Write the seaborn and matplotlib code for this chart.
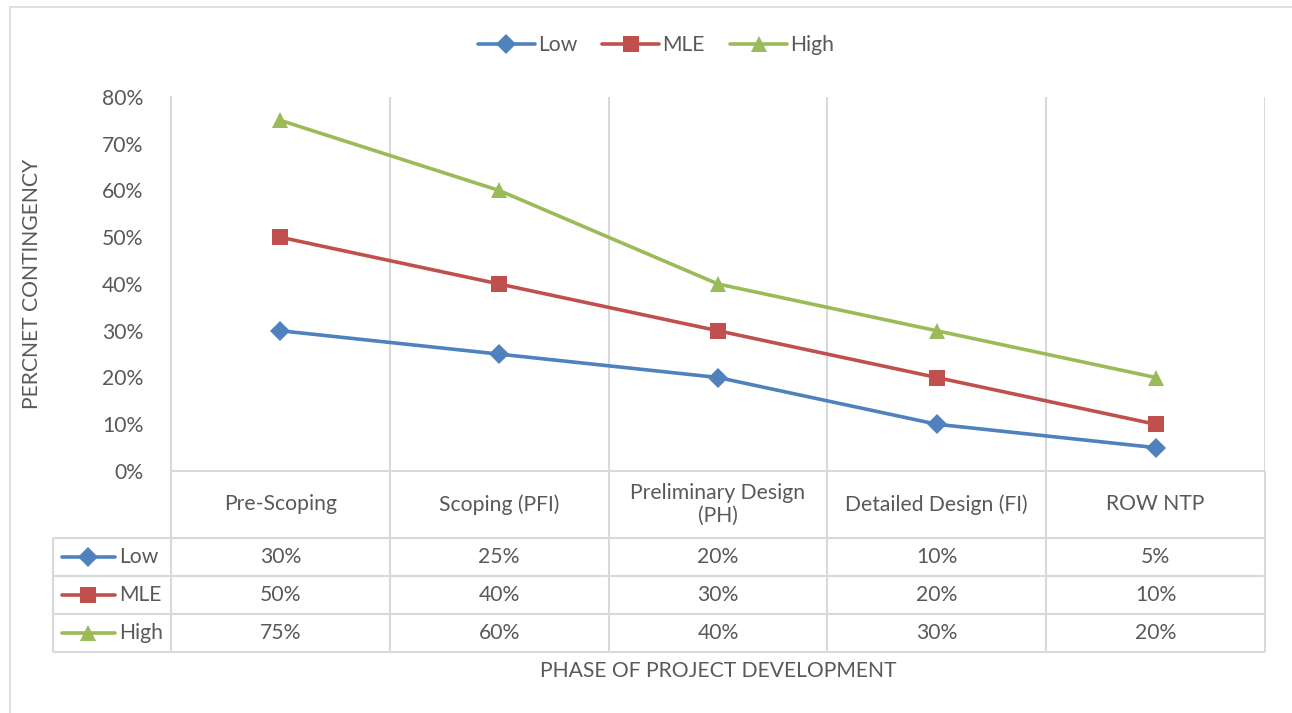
import numpy as np
import pandas as pd
import seaborn as sns
import matplotlib.pyplot as plt
from matplotlib.lines import Line2D
from matplotlib.patches import Rectangle

# values
phases = ["Pre-Scoping", "Scoping (PFI)", "Preliminary Design\n(PH)", "Detailed Design (FI)", "ROW NTP"]
low = [30, 25, 20, 10, 5]
mle = [50, 40, 30, 20, 10]
high = [75, 60, 40, 30, 20]
series_names = ["Low", "MLE", "High"]
yticks = [0, 10, 20, 30, 40, 50, 60, 70, 80]

colors = {"Low": "#4F81BD", "MLE": "#C0504D", "High": "#9BBB59"}
markers = {"Low": "D", "MLE": "s", "High": "^"}
msizes = {"Low": 10, "MLE": 11, "High": 11}
grid_c = "#D9D9D9"
txt_c = "#595959"

sns.set_style("white")
plt.rcParams['font.family'] = ['Lato', 'DejaVu Sans']
FS = 15.2

df = pd.DataFrame({
    "pos": np.tile(np.arange(len(phases)) + 0.5, 3),
    "value": low + mle + high,
    "series": np.repeat(series_names, len(phases)),
})

W, H = 1292, 713
fig = plt.figure(figsize=(W / 100, H / 100), dpi=100)

def fx(px):
    return px / W

def fy(py):
    return 1 - py / H

# outer frame (right and bottom edges fall outside the picture)
fig.add_artist(Rectangle((fx(10), fy(730)), fx(1300), 723 / H, transform=fig.transFigure,
                         fill=False, edgecolor=grid_c, lw=1.2))

L, R, T, B = 171, 1265, 97, 471
ax = fig.add_axes([fx(L), fy(B), fx(R - L), (B - T) / H])
sns.lineplot(data=df, x="pos", y="value", hue="series", style="series",
             palette=colors, markers=markers, dashes=False, lw=2.6,
             markeredgewidth=0, ax=ax, legend=True)
for ln, name in zip(ax.lines, series_names):
    ln.set_markersize(msizes[name])

ax.set_xlim(0, len(phases))
ax.set_ylim(0, 80)
ax.set_yticks(yticks)
ax.set_yticklabels([f"{v}%" for v in yticks], fontsize=FS, color=txt_c)
ax.set_xticks([])
ax.set_xlabel("")
ax.set_ylabel("")
ax.tick_params(axis="y", length=0, pad=20)
for s in ["top", "right", "bottom"]:
    ax.spines[s].set_visible(False)
ax.spines["left"].set_color(grid_c)
ax.spines["left"].set_linewidth(1.5)
for i in range(1, len(phases) + 1):
    ax.axvline(i, color=grid_c, lw=1.5, zorder=0)

handles, labels = ax.get_legend_handles_labels()
ax.get_legend().remove()
for h, name in zip(handles, labels):
    h.set_markersize(msizes[name])
    h.set_linewidth(2.6)
fig.legend(handles, labels, loc="center", bbox_to_anchor=(fx(656), fy(45)), ncol=3,
           frameon=False, fontsize=FS, labelcolor=txt_c, handlelength=2.7,
           handletextpad=0.15, columnspacing=1.2)

ax.text(fx(32), fy(284), "PERCNET CONTINGENCY", transform=fig.transFigure, rotation=90,
        ha="center", va="center", fontsize=FS, color=txt_c)
fig.text(fx(718), fy(671), "PHASE OF PROJECT DEVELOPMENT", ha="center", va="center",
         fontsize=FS, color=txt_c)

# data table below the plot
TB = 652
tax = fig.add_axes([fx(L), fy(TB), fx(R - L), (TB - B) / H])
tax.set_xlim(0, len(phases))
tax.set_ylim(TB - B, 0)
tax.axis("off")
colw = (R - L) / len(phases)
left_x = -(L - 53) / colw
rows_y = [0, 67, 105, 143, 181]
kw = dict(color=grid_c, lw=1.5, clip_on=False, solid_capstyle="butt")
tax.plot([0, len(phases)], [rows_y[0]] * 2, **kw)
for yy in rows_y[1:]:
    tax.plot([left_x, len(phases)], [yy, yy], **kw)
for i in range(len(phases) + 1):
    tax.plot([i, i], [0, rows_y[-1]], **kw)
tax.plot([left_x, left_x], [rows_y[1], rows_y[-1]], **kw)

for i, ph in enumerate(phases):
    tax.text(i + 0.5, (rows_y[0] + rows_y[1]) / 2, ph, ha="center", va="center",
             fontsize=FS, color=txt_c, linespacing=1.15)

for r, (name, vals) in enumerate(zip(series_names, [low, mle, high])):
    yc = (rows_y[r + 1] + rows_y[r + 2]) / 2
    x0 = left_x + 9 / colw
    x1 = left_x + 62 / colw
    tax.add_line(Line2D([x0, x1], [yc, yc], color=colors[name], lw=2.6, clip_on=False,
                        solid_capstyle="round"))
    tax.add_line(Line2D([(x0 + x1) / 2], [yc], color=colors[name], marker=markers[name],
                        markersize=msizes[name], markeredgewidth=0, clip_on=False))
    tax.text(left_x + 66 / colw, yc, name, ha="left", va="center", fontsize=FS, color=txt_c)
    for i, v in enumerate(vals):
        tax.text(i + 0.5, yc, f"{v}%", ha="center", va="center", fontsize=FS, color=txt_c)

fig.savefig("out.png", dpi=100)
